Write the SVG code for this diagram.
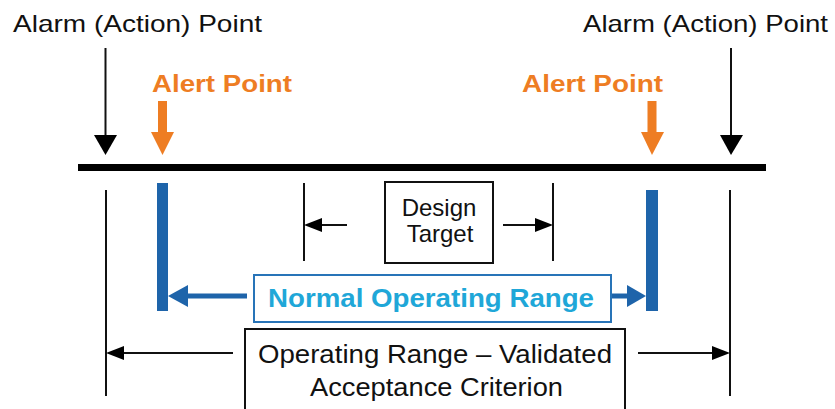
<svg xmlns="http://www.w3.org/2000/svg" width="835" height="409" viewBox="0 0 835 409">
<style>
.t{font-family:"Liberation Sans",Arial,sans-serif;fill:#111}
.b{font-weight:bold}
.ln{stroke:#111;stroke-width:2;fill:none}
.box{fill:#fff;stroke:#111;stroke-width:2}
.hd{fill:#000}
.or{fill:#EE7D23}
.bl{fill:#1E64AA}
</style>
<rect width="835" height="409" fill="#fff"/>
<g id="connectors">
<rect id="scale-bar" x="78" y="164" width="688" height="7" fill="#000"/>
<line class="ln" x1="105.5" y1="48" x2="105.5" y2="137"/>
<polygon class="hd" points="94,135 117,135 105.5,155"/>
<line class="ln" x1="731" y1="48" x2="731" y2="137"/>
<polygon class="hd" points="720,135 743,135 731,155"/>
<rect class="or" x="158" y="101" width="9" height="33"/>
<polygon class="or" points="151,132 174,132 162.5,155"/>
<rect class="or" x="647.5" y="101" width="9" height="33"/>
<polygon class="or" points="641,132 664,132 652,155"/>
<line class="ln" x1="106" y1="190" x2="106" y2="396"/>
<line class="ln" x1="730" y1="190" x2="730" y2="396"/>
<line class="ln" x1="304" y1="183" x2="304" y2="261"/>
<line class="ln" x1="553" y1="183" x2="553" y2="261"/>
<line class="ln" x1="347" y1="225" x2="318" y2="225"/>
<polygon class="hd" points="304,225 322,218 322,232"/>
<line class="ln" x1="503" y1="225" x2="539" y2="225"/>
<polygon class="hd" points="553,225 535,218 535,232"/>
<rect class="bl" x="157" y="183" width="11" height="128"/>
<rect class="bl" x="646" y="190" width="12" height="121"/>
<line stroke="#1E64AA" stroke-width="5" x1="247" y1="296" x2="185" y2="296"/>
<polygon class="bl" points="168,296 188,285 188,307"/>
<line stroke="#1E64AA" stroke-width="5" x1="611" y1="296" x2="630" y2="296"/>
<polygon class="bl" points="646,296 627,285 627,307"/>
<line class="ln" x1="233" y1="353" x2="120" y2="353"/>
<polygon class="hd" points="106,353 124,346 124,360"/>
<line class="ln" x1="638" y1="353" x2="716" y2="353"/>
<polygon class="hd" points="730,353 712,346 712,360"/>
</g>
<g id="alarm-left"><text class="t" x="13" y="32" font-size="24" textLength="249" lengthAdjust="spacingAndGlyphs">Alarm (Action) Point</text></g>
<g id="alarm-right"><text class="t" x="583" y="32" font-size="24" textLength="245" lengthAdjust="spacingAndGlyphs">Alarm (Action) Point</text></g>
<g id="alert-left"><text class="t b" x="152" y="92" font-size="24" textLength="140" lengthAdjust="spacingAndGlyphs" style="fill:#EE7D23">Alert Point</text></g>
<g id="alert-right"><text class="t b" x="522" y="92" font-size="24" textLength="141" lengthAdjust="spacingAndGlyphs" style="fill:#EE7D23">Alert Point</text></g>
<g id="design-target">
<rect class="box" x="385" y="182" width="108" height="81"/>
<text class="t" x="439" y="216" font-size="24" text-anchor="middle">Design</text>
<text class="t" x="440" y="242" font-size="24" text-anchor="middle">Target</text>
</g>
<g id="normal-range">
<rect x="254" y="275" width="357" height="47" fill="#fff" stroke="#2874B8" stroke-width="2"/>
<text class="t b" x="268" y="307" font-size="26" textLength="326" lengthAdjust="spacingAndGlyphs" style="fill:#1FA7D8">Normal Operating Range</text>
</g>
<g id="operating-range">
<rect class="box" x="245" y="329" width="380" height="92"/>
<text class="t" x="258" y="363" font-size="25" textLength="354" lengthAdjust="spacingAndGlyphs">Operating Range – Validated</text>
<text class="t" x="310" y="396" font-size="25" textLength="253" lengthAdjust="spacingAndGlyphs">Acceptance Criterion</text>
</g>
</svg>
